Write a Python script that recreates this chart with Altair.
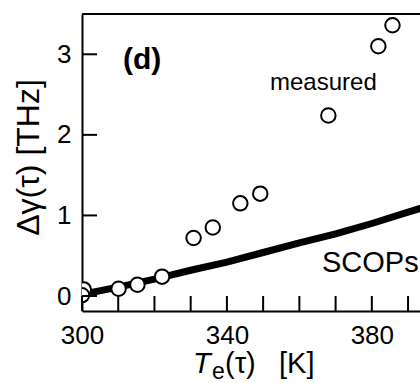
import altair as alt
import pandas as pd

# Measured linewidth change vs. electron temperature (open circles)
temp_measured = [300.5, 300.0, 310.1, 315.3, 322.1, 330.8, 336.1, 343.7, 349.2, 368.0, 381.8, 385.7]
gamma_measured = [0.08, 0.01, 0.09, 0.14, 0.24, 0.72, 0.85, 1.15, 1.27, 2.24, 3.10, 3.36]

# SCOPs model curve (thick line)
temp_scops = [300, 310, 320, 330, 340, 350, 360, 370, 380, 390, 395]
gamma_scops = [0.02, 0.11, 0.21, 0.32, 0.42, 0.54, 0.66, 0.77, 0.90, 1.04, 1.11]

# Axis tick positions
x_ticks = [300, 310, 320, 330, 340, 350, 360, 370, 380, 390]
x_tick_labels = [300, 340, 380]
y_ticks = [0, 1, 2, 3]

W, H = 338, 297
FONT = "Liberation Sans"
TICK_LEN = 15  # px, ticks point into the plot

x_scale = alt.Scale(domain=[300, 393.3], nice=False, zero=False)
y_scale = alt.Scale(domain=[-0.186, 3.5], nice=False, zero=False)

meas = pd.DataFrame({"T": temp_measured, "g": gamma_measured})
scops = pd.DataFrame({"T": temp_scops, "g": gamma_scops})
xt = pd.DataFrame({"T": x_ticks})
yt = pd.DataFrame({"g": y_ticks})

x_axis = alt.Axis(values=x_tick_labels, title=None, ticks=False, labelPadding=11,
                  labelFlush=False, domainWidth=2, domainColor="black", labelFontSize=26,
                  labelFont=FONT, labelColor="black", grid=False, format="d")
y_axis = alt.Axis(values=y_ticks, title="Δγ(τ) [THz]", ticks=False, labelPadding=11,
                  labelFlush=False, domainWidth=2, domainColor="black", labelFontSize=26,
                  labelFont=FONT, labelColor="black", grid=False, format="d",
                  titleFont=FONT, titleFontSize=32, titleFontWeight="normal",
                  titleColor="black", titleX=-54, titleY=143, titleAngle=270,
                  titleAlign="center", titleBaseline="middle")

line = alt.Chart(scops).mark_line(color="black", strokeWidth=7, clip=True).encode(
    x=alt.X("T:Q", scale=x_scale, axis=x_axis),
    y=alt.Y("g:Q", scale=y_scale, axis=y_axis),
)

points = alt.Chart(meas).mark_point(
    shape="circle", filled=True, fill="white", stroke="black", strokeWidth=2,
    size=210, opacity=1, clip=True
).encode(
    x=alt.X("T:Q", scale=x_scale),
    y=alt.Y("g:Q", scale=y_scale),
)

# inward ticks
x_tick_marks = alt.Chart(xt).mark_rule(color="black", strokeWidth=2).encode(
    x=alt.X("T:Q", scale=x_scale),
    y=alt.value(H), y2=alt.value(H - TICK_LEN),
)
y_tick_marks = alt.Chart(yt).mark_rule(color="black", strokeWidth=2).encode(
    y=alt.Y("g:Q", scale=y_scale),
    x=alt.value(0), x2=alt.value(TICK_LEN),
)

# top frame line
top_line = alt.Chart(pd.DataFrame({"a": [0]})).mark_rule(color="black", strokeWidth=2).encode(
    x=alt.value(0), x2=alt.value(W), y=alt.value(0)
)

def label(text, x, y, size, weight="normal", style="normal"):
    return alt.Chart(pd.DataFrame({"t": [text]})).mark_text(
        font=FONT, fontSize=size, fontWeight=weight, fontStyle=style,
        align="left", baseline="alphabetic", color="black"
    ).encode(text="t:N", x=alt.value(x), y=alt.value(y))

texts = [
    label("(d)", 41, 55, 30, weight="bold"),
    label("measured", 188, 76, 24),
    label("SCOPs", 240, 258, 29),
    # x-axis title: T_e(τ)  [K]
    label("T", 111, 359, 29, style="italic"),
    label("e", 130, 365, 23),
    label("(τ)", 143, 359, 29),
    label("[K]", 197, 359, 29),
]

chart = alt.layer(line, points, x_tick_marks, y_tick_marks, top_line, *texts).properties(
    width=W, height=H,
    autosize="none",
    padding={"left": 82, "top": 14, "right": 0, "bottom": 72},
    background="white",
).configure_view(stroke=None)

chart.save("out.html", embed_options={"renderer": "svg", "actions": False})
